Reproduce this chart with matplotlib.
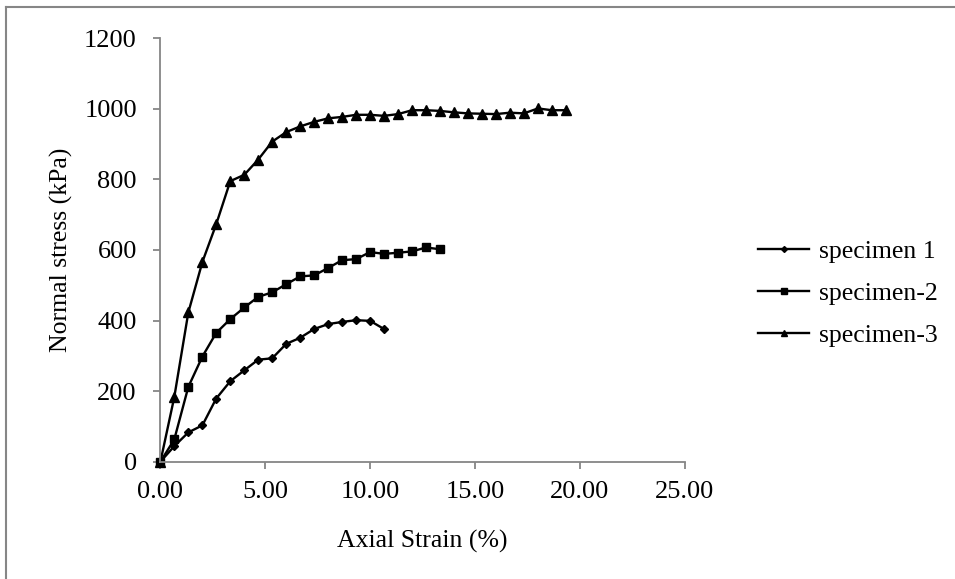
import matplotlib
matplotlib.use('Agg')

import matplotlib.pyplot as plt
from matplotlib.lines import Line2D

plt.rcParams['font.family'] = ['Liberation Serif', 'DejaVu Serif']

# axial strain (%) and normal stress (kPa) for each specimen
strain_1 = [0.0, 0.66, 1.33, 2.0, 2.66, 3.33, 4.0, 4.66, 5.33, 6.0, 6.66, 7.33,
            8.0, 8.66, 9.33, 10.0, 10.66]
stress_1 = [0, 44, 83, 103, 179, 228, 259, 289, 293, 334, 351, 376,
            390, 396, 401, 399, 376]

strain_2 = [0.0, 0.66, 1.33, 2.0, 2.66, 3.33, 4.0, 4.66, 5.33, 6.0, 6.66, 7.33,
            8.0, 8.66, 9.33, 10.0, 10.66, 11.33, 12.0, 12.66, 13.33]
stress_2 = [0, 63, 212, 298, 365, 404, 437, 467, 480, 503, 525, 528,
            549, 571, 574, 594, 589, 592, 596, 607, 602]

strain_3 = [0.0, 0.66, 1.33, 2.0, 2.66, 3.33, 4.0, 4.66, 5.33, 6.0, 6.66, 7.33,
            8.0, 8.66, 9.33, 10.0, 10.66, 11.33, 12.0, 12.66, 13.33, 14.0,
            14.66, 15.33, 16.0, 16.66, 17.33, 18.0, 18.66, 19.33]
stress_3 = [0, 183, 423, 566, 673, 795, 813, 856, 907, 934, 950, 963,
            973, 977, 983, 983, 980, 985, 996, 996, 994, 990,
            987, 986, 985, 989, 987, 1001, 996, 996]

labels = ['specimen 1', 'specimen-2', 'specimen-3']

fig = plt.figure(figsize=(9.55, 5.79), dpi=100)
ax = fig.add_axes([0.168, 0.2026, 0.549, 0.7314])

ax.plot(strain_1, stress_1, 'k-', marker='D', ms=4.5, lw=1.7)
ax.plot(strain_2, stress_2, 'k-', marker='s', ms=5.3, lw=1.7)
ax.plot(strain_3, stress_3, 'k-', marker='^', ms=7, lw=1.7)

ax.set_xlim(0, 25)
ax.set_ylim(0, 1200)
ax.set_xticks([0, 5, 10, 15, 20, 25])
ax.set_xticklabels(['%.2f' % v for v in [0, 5, 10, 15, 20, 25]])
ax.set_yticks(range(0, 1201, 200))

for side in ['top', 'right']:
    ax.spines[side].set_visible(False)
for side in ['left', 'bottom']:
    ax.spines[side].set_color('#868686')
    ax.spines[side].set_linewidth(1.3)
ax.tick_params(direction='out', length=5, width=1.3, color='#868686',
               labelsize=19)
ax.tick_params(axis='y', pad=12)
ax.tick_params(axis='x', pad=9)
for ln in ax.lines:
    ln.set_clip_on(False)

ax.set_xlabel('Axial Strain (%)', fontsize=18.5, labelpad=19)
ax.set_ylabel('Normal stress (kPa)', fontsize=18.5, labelpad=8)

# legend with smaller markers, like the spreadsheet style
handles = [Line2D([], [], color='k', lw=1.7, marker='D', ms=3),
           Line2D([], [], color='k', lw=1.7, marker='s', ms=3.8),
           Line2D([], [], color='k', lw=1.7, marker='^', ms=5)]
fig.legend(handles, labels, loc='center left', bbox_to_anchor=(0.770, 0.493),
           frameon=False, fontsize=18.5, handlelength=1.95, handletextpad=0.4,
           labelspacing=0.73)

# outer chart frame
fig.add_artist(Line2D([0.0068, 0.0068], [0, 0.988], transform=fig.transFigure,
                      color='#868686', lw=1.5))
fig.add_artist(Line2D([0.0068, 1.0], [0.988, 0.988], transform=fig.transFigure,
                      color='#868686', lw=1.5))

fig.savefig('out.png', dpi=100)
